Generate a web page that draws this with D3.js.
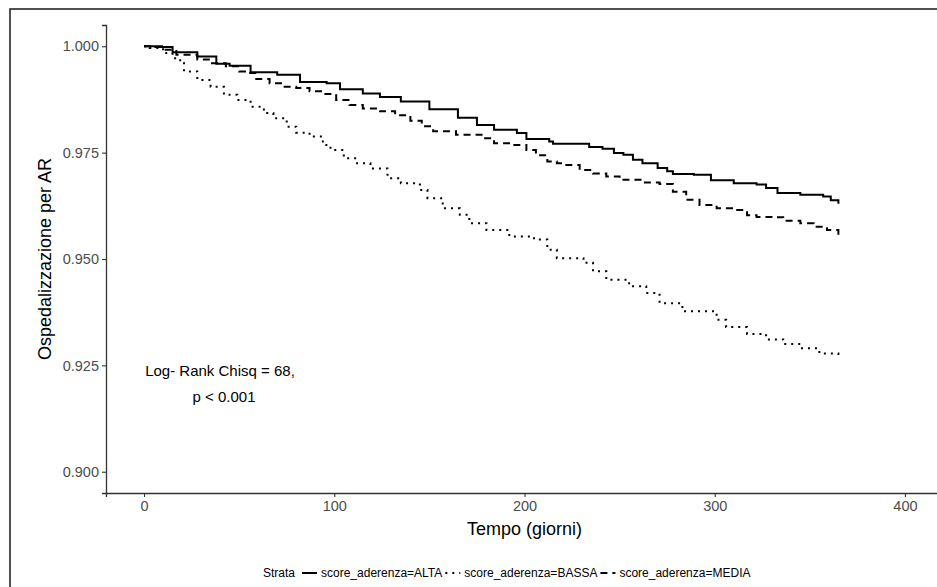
<!DOCTYPE html>
<html><head><meta charset="utf-8">
<script src="https://cdn.jsdelivr.net/npm/d3@7"></script>
<style>body{margin:0;background:#fff}svg{display:block}</style>
</head><body>
<svg id="c" width="937" height="587"></svg>
<script>
// ---- data ----
const xTicks = [0, 100, 200, 300, 400];
const yTicks = [0.900, 0.925, 0.950, 0.975, 1.000];
const strataLabels = ["score_aderenza=ALTA", "score_aderenza=BASSA", "score_aderenza=MEDIA"];

const timeAlta = [0,6,15,28,38,45,56,70,82,96,103,115,124,135,150,165,175,184,196,201,213,215,229,234,241,247,252,257,262,270,275,278,289,298,310,322,327,333,345,357,361,365];
const survAlta = [1.000,0.9998,0.9986,0.9976,0.9959,0.9954,0.9939,0.9933,0.9916,0.9913,0.9899,0.9889,0.9881,0.9870,0.9852,0.9832,0.9815,0.9804,0.9796,0.9782,0.9776,0.9771,0.9771,0.9763,0.9759,0.9749,0.9745,0.9733,0.9725,0.9714,0.9706,0.9700,0.9698,0.9685,0.9678,0.9675,0.9667,0.9655,0.9651,0.9647,0.9638,0.9630];

const timeBassa = [0,3,10,15,19,21,28,35,42,49,56,63,68,75,80,87,94,98,105,112,119,128,135,145,149,157,166,171,180,192,205,212,217,231,236,243,255,264,271,283,301,306,317,327,336,345,355,365];
const survBassa = [1.000,0.9996,0.9984,0.9972,0.9960,0.9941,0.9921,0.9905,0.9886,0.9874,0.9858,0.9843,0.9831,0.9811,0.9797,0.9788,0.9768,0.9756,0.9737,0.9725,0.9713,0.9690,0.9678,0.9662,0.9643,0.9619,0.9604,0.9584,0.9568,0.9553,0.9546,0.9522,0.9502,0.9491,0.9471,0.9451,0.9436,0.9420,0.9396,0.9377,0.9357,0.9340,0.9324,0.9311,0.9300,0.9290,0.9278,0.9266];

const timeMedia = [0,10,17,28,35,43,50,54,59,66,73,80,87,94,101,108,115,124,132,140,146,152,164,178,184,194,201,206,212,217,222,229,236,243,250,261,271,278,285,292,301,310,317,322,331,336,345,352,359,365];
const survMedia = [1.000,0.9992,0.9980,0.9969,0.9960,0.9953,0.9941,0.9937,0.9923,0.9913,0.9905,0.9902,0.9894,0.9888,0.9874,0.9862,0.9854,0.9847,0.9838,0.9825,0.9812,0.9800,0.9792,0.9784,0.9772,0.9768,0.9756,0.9744,0.9729,0.9725,0.9721,0.9709,0.9701,0.9694,0.9686,0.9680,0.9676,0.9658,0.9639,0.9627,0.9619,0.9615,0.9603,0.9599,0.9598,0.9590,0.9584,0.9576,0.9568,0.9557];

const annotationLines = ["Log- Rank Chisq = 68,", "p < 0.001"];

// ---- drawing ----
const svg = d3.select("#c");
const FONT = "'Liberation Sans', Arial, sans-serif";

// outer frame (extends past the crop on right/bottom)
svg.append("rect").attr("x", 10).attr("y", 9).attr("width", 960).attr("height", 620)
  .attr("fill", "none").attr("stroke", "#262626").attr("stroke-width", 1.6);

const x = d3.scaleLinear().domain([-20, 420]).range([106, 943]);
const y = d3.scaleLinear().domain([0.895, 1.005]).range([493, 25]);

const gx = svg.append("g").attr("transform", "translate(0,493)")
  .call(d3.axisBottom(x).tickValues(xTicks).tickSizeOuter(0).tickSize(4).tickPadding(4));
const gy = svg.append("g").attr("transform", "translate(106,0)")
  .call(d3.axisLeft(y).tickValues(yTicks).tickFormat(d3.format(".3f")).tickSizeOuter(0).tickSize(4).tickPadding(3));
[gx, gy].forEach(g => {
  g.select(".domain").attr("stroke", "#333").attr("stroke-width", 1.3);
  g.selectAll(".tick line").attr("stroke", "#333").attr("stroke-width", 1.1);
  g.selectAll(".tick text").attr("fill", "#4d4d4d").attr("font-size", 14.5).attr("font-family", FONT);
});

const series = [
  {t: timeAlta, s: survAlta, dash: null},
  {t: timeBassa, s: survBassa, dash: "2,5"},
  {t: timeMedia, s: survMedia, dash: "7,5"}
];
const line = d3.line().x(d => x(d[0])).y(d => y(d[1])).curve(d3.curveStepAfter);
series.forEach(sr => {
  const pts = sr.t.map((t, i) => [t, sr.s[i]]);
  svg.append("path").attr("d", line(pts)).attr("fill", "none")
    .attr("stroke", "#000").attr("stroke-width", 2)
    .attr("stroke-dasharray", sr.dash);
});

// axis titles
svg.append("text").attr("x", x(200)).attr("y", 535).attr("text-anchor", "middle")
  .attr("font-family", FONT).attr("font-size", 18).attr("fill", "#000").text("Tempo (giorni)");
svg.append("text").attr("transform", `translate(51,${y(0.95)}) rotate(-90)`).attr("text-anchor", "middle")
  .attr("font-family", FONT).attr("font-size", 18).attr("fill", "#000").text("Ospedalizzazione per AR");

// annotation
const ann = svg.append("text").attr("text-anchor", "middle").attr("font-family", FONT)
  .attr("font-size", 15).attr("fill", "#000");
annotationLines.forEach((l, i) => {
  ann.append("tspan").attr("x", i === 0 ? 220 : 224).attr("y", 376 + i * 26).text(l);
});

// legend
const lg = svg.append("g").attr("font-family", FONT).attr("font-size", 12);
let cx = 263; const ly = 577;
const st = lg.append("text").attr("x", cx).attr("y", ly).attr("fill", "#000").text("Strata");
cx += st.node().getComputedTextLength() + 7;
series.forEach((sr, i) => {
  lg.append("line").attr("x1", cx).attr("x2", cx + 15).attr("y1", ly - 4).attr("y2", ly - 4)
    .attr("stroke", "#000").attr("stroke-width", 2).attr("stroke-dasharray", sr.dash);
  cx += 19;
  const tx = lg.append("text").attr("x", cx).attr("y", ly).attr("fill", "#000").text(strataLabels[i]);
  cx += tx.node().getComputedTextLength() + 3;
});
</script>
</body></html>
